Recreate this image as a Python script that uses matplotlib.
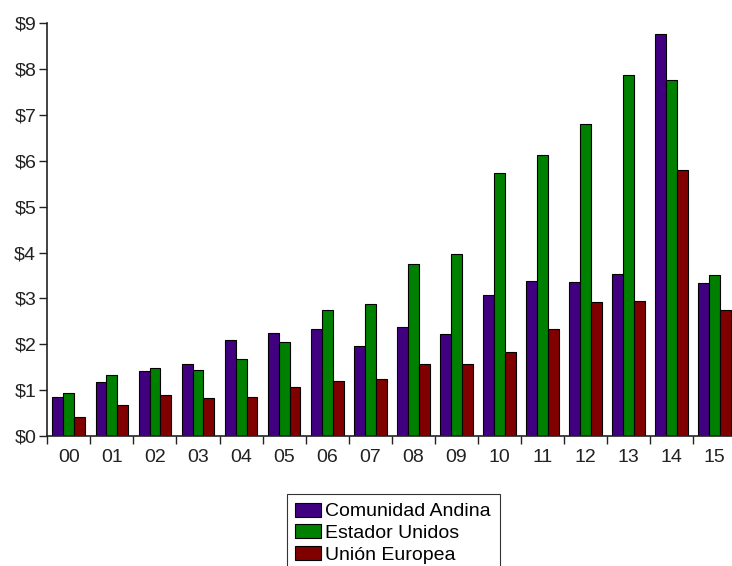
import matplotlib
matplotlib.use("Agg")
import matplotlib.pyplot as plt
import numpy as np
from matplotlib.ticker import FixedLocator, FuncFormatter

plt.rcParams['font.family'] = ['Liberation Sans', 'DejaVu Sans']

years = ["00", "01", "02", "03", "04", "05", "06", "07",
         "08", "09", "10", "11", "12", "13", "14", "15"]
comunidad_andina = [0.86, 1.17, 1.42, 1.57, 2.09, 2.25, 2.34, 1.97,
                    2.38, 2.22, 3.08, 3.37, 3.36, 3.53, 8.76, 3.34]
estados_unidos = [0.93, 1.33, 1.48, 1.44, 1.69, 2.04, 2.75, 2.87,
                  3.75, 3.96, 5.74, 6.12, 6.80, 7.88, 7.76, 3.52]
union_europea = [0.42, 0.68, 0.89, 0.83, 0.84, 1.07, 1.21, 1.24,
                 1.58, 1.58, 1.83, 2.33, 2.92, 2.94, 5.81, 2.74]
series_names = ["Comunidad Andina", "Estador Unidos", "Unión Europea"]
y_ticks = [0, 1, 2, 3, 4, 5, 6, 7, 8, 9]

colors = ["#400080", "#008000", "#800000"]

fig = plt.figure(figsize=(7.32, 5.66), dpi=100)
ax = fig.add_axes([47.3 / 732, 130 / 566, 689 / 732, 412.7 / 566])

x = np.arange(len(years))
w = 0.253
for i, (vals, c, name) in enumerate(zip(
        [comunidad_andina, estados_unidos, union_europea], colors, series_names)):
    ax.bar(x + (i - 1) * w, vals, width=w, color=c, edgecolor="black",
           linewidth=0.8, label=name)

ax.set_xlim(-0.5, len(years) - 0.5)
ax.set_ylim(0, 9)

ax.yaxis.set_major_locator(FixedLocator(y_ticks))
ax.yaxis.set_major_formatter(FuncFormatter(lambda v, p: f"${int(v)}"))

ax.xaxis.set_major_locator(FixedLocator(np.arange(len(years) + 1) - 0.5))
ax.xaxis.set_major_formatter(FuncFormatter(lambda v, p: ""))
ax.xaxis.set_minor_locator(FixedLocator(x))
ax.set_xticklabels(years, minor=True)

ax.tick_params(axis="y", which="major", direction="out", length=6,
               width=1, labelsize=14, pad=2, colors="#222222")
ax.tick_params(axis="x", which="major", direction="out", length=6,
               width=1, colors="#222222")
ax.tick_params(axis="x", which="minor", length=0, labelsize=14, pad=9,
               labelcolor="#222222")

for s in ["top", "right"]:
    ax.spines[s].set_visible(False)
for s in ["left", "bottom"]:
    ax.spines[s].set_linewidth(1.2)
    ax.spines[s].set_color("#222222")

leg = fig.legend(loc="upper left", bbox_to_anchor=(286.5 / 732, 1 - 494 / 566),
                 fontsize=14, frameon=True, fancybox=False, shadow=False,
                 handlelength=1.3, handleheight=0.72, handletextpad=0.25,
                 labelspacing=0.2, borderpad=0.45, borderaxespad=0)
leg.get_frame().set_edgecolor("black")
leg.get_frame().set_linewidth(0.8)

fig.savefig("out.png", dpi=100)
